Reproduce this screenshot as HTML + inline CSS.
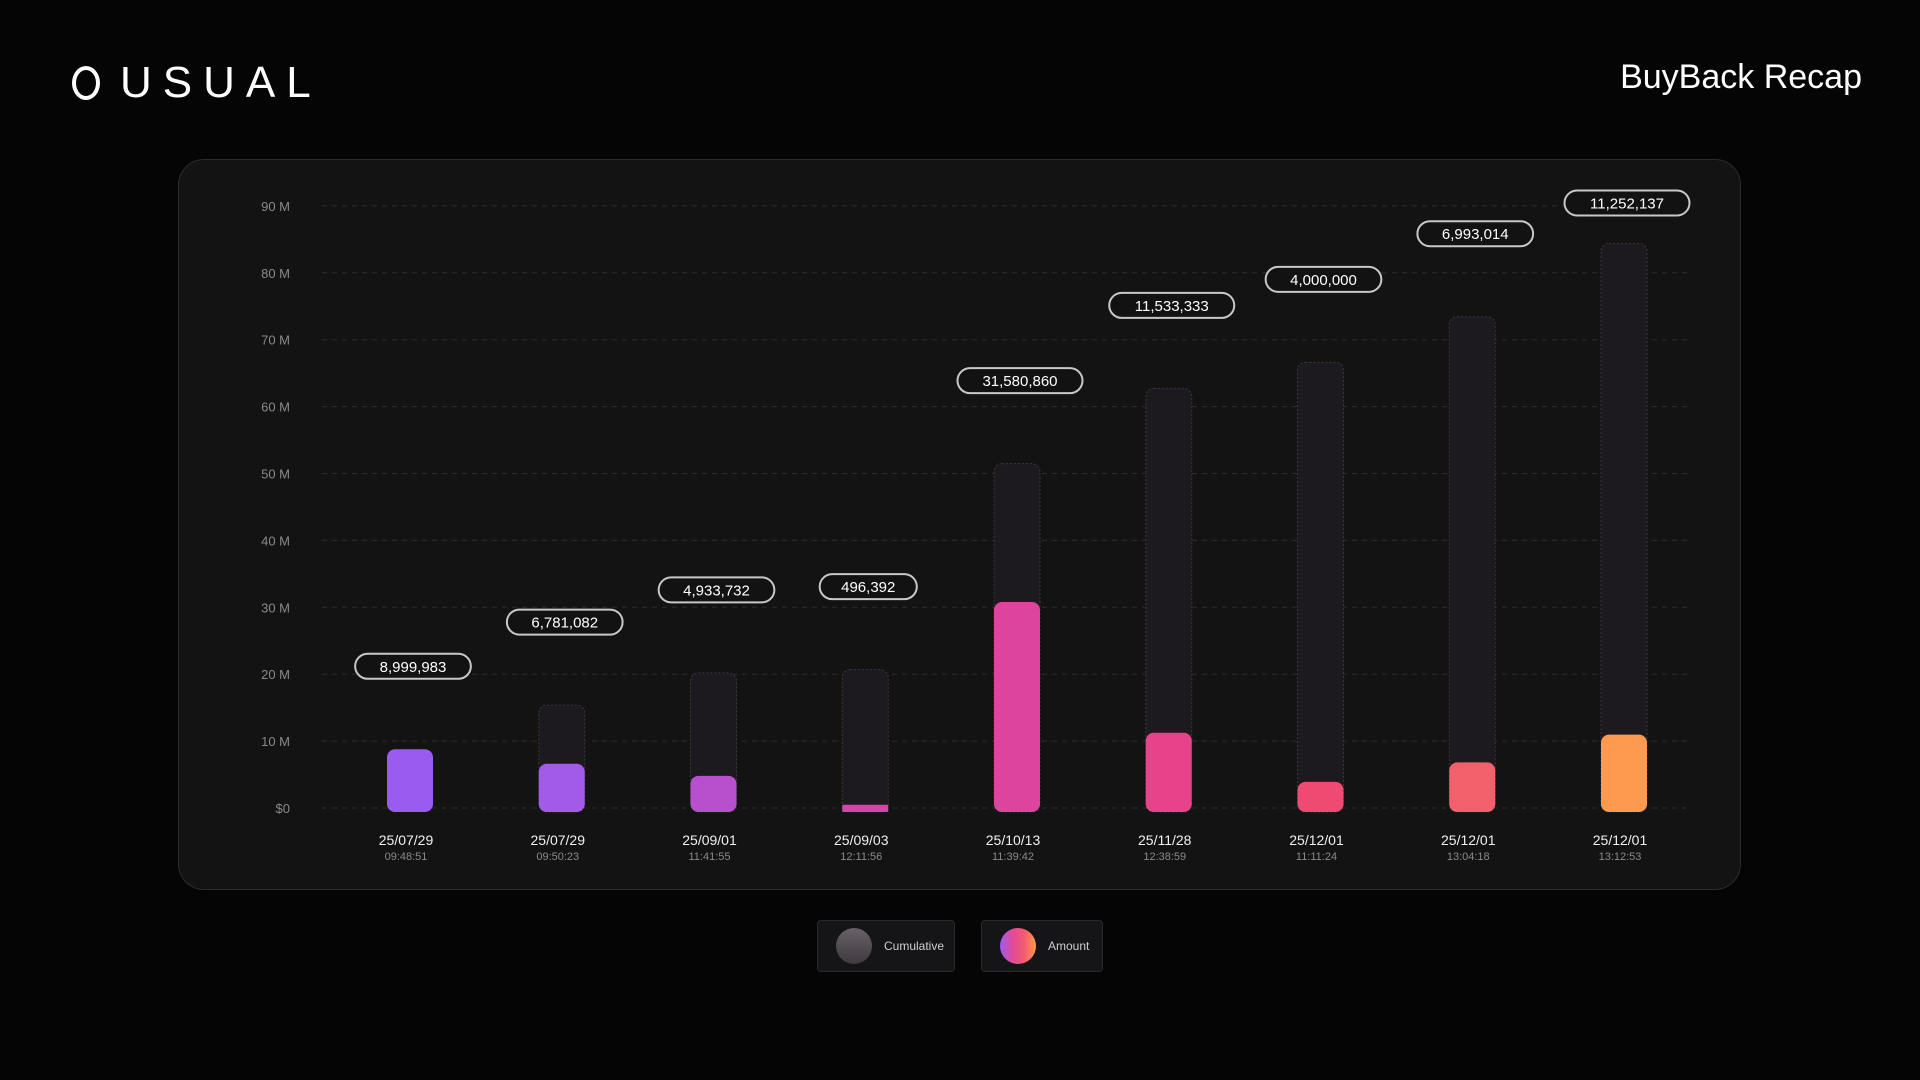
<!DOCTYPE html>
<html><head><meta charset="utf-8"><style>
html,body{margin:0;padding:0;background:#050505;width:1920px;height:1080px;overflow:hidden;font-family:"Liberation Sans",sans-serif;}
#logo{position:absolute;left:72px;top:58px;color:#fff;font-size:44px;letter-spacing:11px;display:flex;align-items:center;}
#logo .ring{width:28px;height:34px;border:4px solid #fff;border-radius:50%;margin-right:20px;box-sizing:border-box;}
#title{position:absolute;right:58px;top:58px;color:#fff;font-size:34px;}
#panel{position:absolute;left:178px;top:159px;width:1563px;height:731px;background:#131313;border:1.5px solid #2c2c2c;border-radius:26px;box-sizing:border-box;}
svg{position:absolute;left:0;top:0;}
.leg{position:absolute;top:920px;height:52px;background:#151417;border:1.5px solid #2a2a2c;border-radius:4px;box-sizing:border-box;display:flex;align-items:center;color:#cfcfcf;font-size:12px;}
.leg .dot{width:36px;height:36px;border-radius:50%;margin:0 12px 0 18px;}
</style></head><body>
<div id="logo"><div class="ring"></div>USUAL</div>
<div id="title">BuyBack Recap</div>
<div id="panel"></div>
<svg id="chart" width="1920" height="1080"></svg>
<div class="leg" style="left:817px;width:138px"><div class="dot" style="background:linear-gradient(#6a6068,#3e3a3e)"></div>Cumulative</div>
<div class="leg" style="left:981px;width:122px"><div class="dot" style="background:linear-gradient(90deg,#9b5cf0,#e04a9a,#f25a70,#ff9a48)"></div>Amount</div>
<script>
const dates=["25/07/29","25/07/29","25/09/01","25/09/03","25/10/13","25/11/28","25/12/01","25/12/01","25/12/01"];
const times=["09:48:51","09:50:23","11:41:55","12:11:56","11:39:42","12:38:59","11:11:24","13:04:18","13:12:53"];
const amounts=[8999983,6781082,4933732,496392,31580860,11533333,4000000,6993014,11252137];
const yTicks=[0,10,20,30,40,50,60,70,80,90];
const yTickLabels=["$0","10 M","20 M","30 M","40 M","50 M","60 M","70 M","80 M","90 M"];
const colors=["#9a5cf0","#a25ae8","#b84fcc","#d246a8","#dc449e","#e6438a","#ef4a72","#f2606c","#fd9a50"];
const NS="http://www.w3.org/2000/svg";
const svg=document.getElementById('chart');
const y0=808,yPer10=66.9;
const y=v=>y0-v/1e7*yPer10;
const yb=v=>y0-v/1e7*yPer10*0.975;
const x=i=>410+i*151.75;
function mk(t,a,p){const e=document.createElementNS(NS,t);for(const k in a)e.setAttribute(k,a[k]);(p||svg).appendChild(e);return e;}
yTicks.forEach((t,i)=>{
  const g=mk('line',{x1:322,x2:1690,y1:y(t*1e6),y2:y(t*1e6),stroke:'#2e2b30','stroke-dasharray':'5 5','stroke-width':1});
  
  
  const l=mk('text',{x:290,y:y(t*1e6)+5,'text-anchor':'end',fill:'#8a8a8a','font-size':13});
  l.textContent=yTickLabels[i];
  
  
});
let cum=0;const bw=46;
amounts.forEach((a,i)=>{
  cum+=a;const cx=x(i);
  const ct=yb(cum);
  if(i>0){
    const c=mk('rect',{x:cx-bw/2,y:ct,width:bw,height:y0-ct+4,rx:8,fill:'#1c1a1f',stroke:'#3a383c','stroke-dasharray':'2 2','stroke-width':1});
    
    
  }
  const at=yb(a);
  const h=Math.max(y0-at+4,4);
  const b=mk('rect',{x:cx-bw/2,y:y0+4-h,width:bw,height:h,rx:h>10?8:1,fill:colors[i]});
  
  
  const py=Math.max(ct-83,203);
  const label=a.toLocaleString('en-US');
  const pw=label.length*9.3+32;
  const p=mk('rect',{x:cx+3-pw/2,y:py-12.5,width:pw,height:25,rx:12.5,fill:'#121212',stroke:'#c8c8c8','stroke-width':2});
  
  
  const pt=mk('text',{x:cx+3,y:py+5.5,'text-anchor':'middle',fill:'#fff','font-size':15});
  pt.textContent=label;
  
  
  const d=mk('text',{x:cx-4,y:845,'text-anchor':'middle',fill:'#f0f0f0','font-size':14});
  d.textContent=dates[i];
  
  
  const tt=mk('text',{x:cx-4,y:860,'text-anchor':'middle',fill:'#8a8a8a','font-size':11});
  tt.textContent=times[i];
  
  
});
</script>
</body></html>
